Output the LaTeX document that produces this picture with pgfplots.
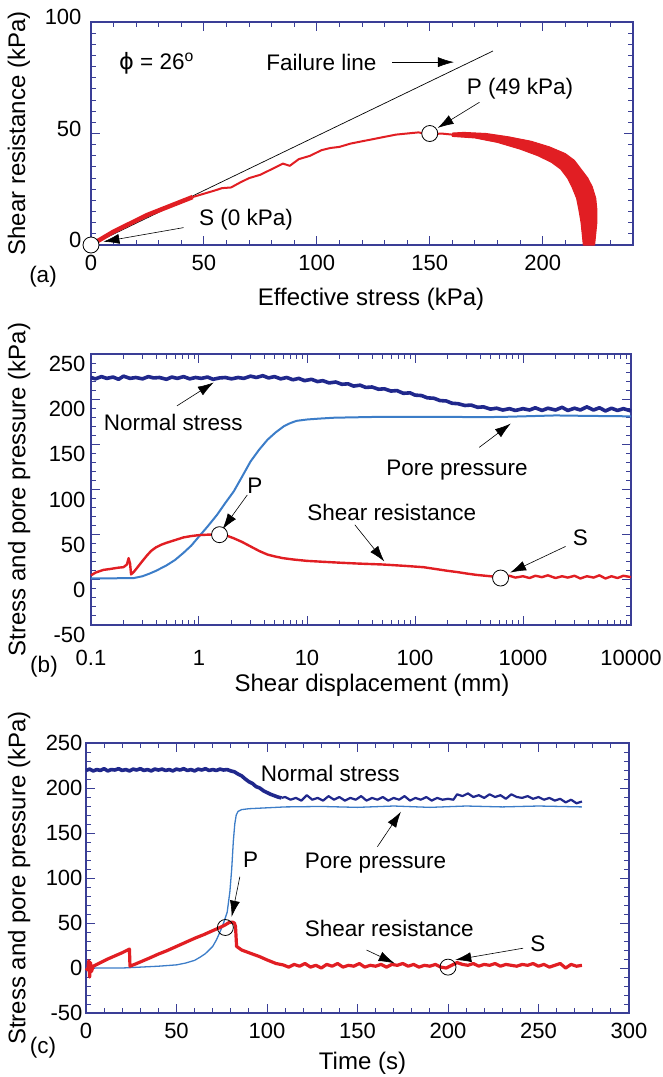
\documentclass[border=0pt]{standalone}
\usepackage{pgfplots}
\pgfplotsset{compat=1.18}
\usepackage{fontspec}
\setmainfont{Liberation Sans}
\newfontfamily\dejavu{DejaVu Sans}
\usetikzlibrary{arrows.meta}
\definecolor{framec}{RGB}{58,62,150}
\definecolor{normalc}{RGB}{32,40,140}
\definecolor{porec}{RGB}{60,125,200}
\definecolor{redc}{RGB}{225,30,35}
\newcommand{\fs}{\fontsize{22.5}{27}\selectfont}
\newcommand{\fl}{\fontsize{24}{28}\selectfont}
\tikzset{ann/.style={-{Latex[length=16pt,width=10pt]}, line width=0.6pt, black}}
\pgfplotsset{
  myaxis/.style={
    scale only axis,
    axis line style={framec, line width=1.3pt},
    every tick/.style={framec, line width=1pt},
    major tick length=9pt,
    minor tick length=5pt,
    tick align=inside,
    tick label style={font=\fontsize{22}{26}\selectfont, black},
    label style={font=\fl},
    /pgf/number format/assume math mode=true,
    clip=false,
    ylabel style={at={(axis description cs:-0.133,0.5)}, anchor=center},
    xlabel style={at={(axis description cs:0.5,0)}, anchor=center},
  },
  openc/.style={only marks, mark=*, mark size=8pt, mark options={fill=white, draw=black, line width=0.8pt}},
  openo/.style={only marks, mark=o, mark size=8pt, mark options={draw=black, line width=0.8pt}},
}
\begin{document}
\begin{tikzpicture}
\path[use as bounding box] (0,0) rectangle (662pt,-1077pt);

% ---------------- (a)
\begin{axis}[myaxis,
  at={(91pt,-245pt)}, anchor=south west,
  width=542pt, height=223pt,
  xmin=0, xmax=240, ymin=0, ymax=100,
  xtick={0,50,...,200}, minor xtick={10,20,...,240},
  ytick={0,50,100}, minor ytick={5,10,...,95},
  xticklabel style={yshift=-7pt},
  yticklabel style={xshift=-6pt, yshift=5pt},
  xlabel={Effective stress (kPa)},
  ylabel={Shear resistance (kPa)},
  xlabel style={yshift=-54pt, xshift=9pt},
]
\addplot[black, line width=0.7pt] coordinates {(0,0) (178,87)};
\addplot[redc, line width=4.5pt, line join=round] coordinates {
(0,0) (5,3) (10,6) (15,8.5) (20,11) (25,13.5) (30,15.5) (35,17.5) (40,19.5) (45,21.5)};
\addplot[redc, line width=2pt, line join=round] coordinates {
(45,21.5) (50,23) (55,24.5) (58,25.5) (62,25.8) (66,28) (70,30) (75,31.5) (80,34) (85,36.5) (88,35.5) (92,38.5) (97,40) (102,42.5) (106,43.5) (110,44) (115,45.5) (120,46.5) (125,47.5) (130,48.5) (135,49.5) (140,50) (145,50.5) (150,49.5) (155,50) (160,49.5)};
\addplot[redc, fill=redc, line width=1pt, line join=round] coordinates {
(160,48.7) (170,48) (180,46) (190,43) (198,40) (204,37) (208,34) (211,30) (213,26) (215,21) (216,16) (217,10) (217.5,5) (218,0)
(223,0) (223.5,5) (224,10) (224,16) (223.5,21) (222,26) (220,30) (217,34) (214,38) (210,41) (203,44) (195,46.5) (185,48.5) (175,50) (165,50.5) (160,50.2)} -- cycle;
\addplot[openc] coordinates {(150,50) (0,0)};
\node[font=\fs] at (axis cs:29,81.5) {{\dejavu ϕ} = 26\textsuperscript{o}};
\node[font=\fs] at (axis cs:102,82) {Failure line};
\draw[ann] (axis cs:133.4,82) -- (axis cs:160.7,82);
\node[font=\fs] at (axis cs:190,70.3) {P (49 kPa)};
\draw[ann] (axis cs:172,64) -- (axis cs:153.5,52.5);
\node[font=\fs] at (axis cs:68.6,11.2) {S (0 kPa)};
\draw[ann] (axis cs:41,7.8) -- (axis cs:5.5,1.5);
\node[font=\fs] at (axis description cs:0,0) [xshift=-48pt, yshift=-32pt] {(a)};
\end{axis}

% ---------------- (b)
\begin{axis}[myaxis,
  at={(91pt,-625pt)}, anchor=south west,
  width=540pt, height=271pt,
  xmode=log, xmin=0.1, xmax=10000, ymin=-50, ymax=250,
  xtick={0.1,1,10,100,1000,10000},
  xticklabels={0.1,1,10,100,1000,10000},
  minor xtick={0.2,0.3,0.4,0.5,0.6,0.7,0.8,0.9,2,3,4,5,6,7,8,9,20,30,40,50,60,70,80,90,200,300,400,500,600,700,800,900,2000,3000,4000,5000,6000,7000,8000,9000},
  ytick={-50,0,...,250}, minor ytick={-40,-30,...,240},
  xticklabel style={yshift=-22pt},
  yticklabel style={xshift=-2pt, yshift=-10pt},
  xlabel={Shear displacement (mm)},
  ylabel={Stress and pore pressure (kPa)},
  xlabel style={yshift=-60pt, xshift=11pt},
]
\addplot[normalc, line width=3.6pt, line join=round] coordinates {
(0.1,224) (0.11,222.5) (0.125,225) (0.14,223) (0.16,224.5) (0.18,222) (0.2,225.5) (0.23,223) (0.26,224) (0.3,222.5) (0.34,225) (0.38,223.5) (0.43,224) (0.5,222) (0.56,224.5) (0.63,223) (0.72,225) (0.82,222.5) (0.93,224) (1.05,223) (1.2,224.5) (1.35,222) (1.55,223.5) (1.75,224) (2,222.5) (2.3,224) (2.6,223) (3,225.5) (3.4,224) (3.9,226) (4.4,223.5) (5,225) (5.7,222.5) (6.5,224) (7.4,221.5) (8.4,223) (9.5,220.5) (11,222) (12.5,219.5) (14,220.5) (16,218) (18.5,219) (21,216.5) (24,217) (27,214.5) (31,215.5) (35,213) (40,213.5) (46,211) (52,211.5) (60,209) (68,209.5) (78,206.5) (90,207) (100,204.5) (115,204) (130,201.5) (150,201) (170,198.5) (195,198) (220,195.5) (250,195) (290,193) (330,193.5) (380,191) (430,191.5) (500,189) (570,190) (650,188) (750,189.5) (850,187.5) (1000,189.5) (1150,188) (1300,190.5) (1500,187.5) (1700,190) (2000,188) (2300,191) (2600,187.5) (3000,190) (3400,188) (3900,191.5) (4500,188) (5100,190.5) (5800,187) (6600,190) (7500,187.5) (8500,189.5) (10000,187)};
\addplot[porec, line width=2pt, line join=round] coordinates {
(0.1,1.5) (0.15,1.5) (0.2,2) (0.25,2) (0.3,4) (0.35,7) (0.4,10) (0.5,16) (0.6,22) (0.72,30) (0.85,38) (1.0,48) (1.2,59) (1.47,72) (1.75,85) (2.1,98) (2.5,114) (3.0,131) (3.6,144) (4.3,155) (5.1,163) (6.1,170) (7,173.5) (8,176) (10,177.5) (13,178.5) (18,179.5) (30,180) (50,180.5) (100,180.5) (200,180.5) (400,180) (700,180.5) (1000,181) (2000,182) (4000,181.5) (10000,181)};
\addplot[redc, line width=2.4pt, line join=round] coordinates {
(0.1,5) (0.11,8) (0.13,11) (0.15,12) (0.18,13.5) (0.2,14) (0.215,17) (0.223,24) (0.23,18) (0.235,6) (0.25,9) (0.27,14) (0.3,21) (0.33,27) (0.36,32) (0.4,36) (0.45,39) (0.5,41) (0.6,44) (0.72,47) (0.85,48.5) (1.0,49.5) (1.2,50) (1.5,50) (1.8,49) (2.1,46) (2.5,42) (3,37) (3.6,32) (4.3,28) (5,26) (6,24) (7.5,22.5) (10,21) (14,20) (20,19) (30,18) (50,17) (80,15.5) (120,14) (200,10) (250,8.5) (300,7) (370,5.5) (450,4.5) (550,3.5) (650,3) (750,4.5) (850,2.5) (1000,4) (1150,2) (1300,4.5) (1500,3) (1700,5) (2000,2) (2300,4) (2600,2.5) (3000,4.5) (3400,1.5) (3900,4) (4500,2.5) (5100,5) (5800,1.5) (6600,4) (7500,2) (8500,4.5) (10000,3)};
\addplot[openc] coordinates {(1.55,50) (620,2)};
\node[font=\fs] at (axis cs:0.578,174) {Normal stress};
\draw[ann] (axis cs:0.625,192.6) -- (axis cs:1.37,218.5);
\node[font=\fs] at (axis cs:245,122) {Pore pressure};
\draw[ann] (axis cs:394,146.7) -- (axis cs:771,173);
\node[font=\fs] at (axis cs:3.3,104) {P};
\draw[ann] (axis cs:2.8,94) -- (axis cs:1.65,56);
\node[font=\fs] at (axis cs:61,74.4) {Shear resistance};
\draw[ann] (axis cs:27.7,61) -- (axis cs:52,20.3);
\node[font=\fs] at (axis cs:3400,46.7) {S};
\draw[ann] (axis cs:2480,37) -- (axis cs:760,8);
\node[font=\fs] at (axis description cs:0,0) [xshift=-47pt, yshift=-42pt] {(b)};
\end{axis}

% ---------------- (c)
\begin{axis}[myaxis,
  at={(86pt,-1013pt)}, anchor=south west,
  width=543pt, height=270pt,
  xmin=0, xmax=300, ymin=-50, ymax=250,
  xtick={0,50,...,300}, minor xtick={10,20,...,290},
  ytick={-50,0,...,250}, minor ytick={-40,-30,...,240},
  xticklabel style={yshift=-7pt},
  xlabel={Time (s)},
  ylabel={Stress and pore pressure (kPa)},
  ylabel style={at={(axis description cs:-0.123,0.5)}},
  xlabel style={yshift=-50pt, xshift=5pt},
]
\addplot[normalc, line width=3.6pt, line join=round] coordinates {
(0,219.5) (2,221) (4,219) (6,220.5) (8,219.5) (10,221.5) (12,219) (14,220.5) (16,220) (18,221.5) (20,219.5) (22,220.5) (24,219) (26,221) (28,220) (30,221.5) (32,219.5) (34,220.5) (36,219) (38,221) (40,220) (42,221) (44,219.5) (46,220.5) (48,219) (50,221) (52,220) (54,221.5) (56,219.5) (58,220.5) (60,219) (62,221) (64,220) (66,221.5) (68,219.5) (70,220.5) (72,219.5) (74,221) (76,220) (78,220.5) (80,219) (82,218) (84,215.5) (86,213.5) (88,210) (90,207) (92,205) (94,201.5) (96,200) (98,197) (100,195) (102,193) (104,191.5) (106,190) (108,189)};
\addplot[normalc, line width=2.2pt, line join=round] coordinates {
(108,189) (110,190) (113,187) (116,189) (119,186) (122,192) (125,187) (128,189) (131,186) (134,191) (137,187) (140,190) (143,186) (146,189) (149,187) (152,191) (155,186) (158,189) (161,187) (164,190) (167,186) (170,189) (173,187) (176,191) (179,186) (182,189) (185,187) (188,190) (191,186) (194,189) (197,187) (200,188) (203,187) (205,193) (208,191) (211,194) (214,190) (217,192) (220,189) (223,193) (226,190) (229,192) (232,188) (235,193) (238,190) (241,189) (244,191) (247,188) (250,190) (253,187) (256,189) (259,186) (262,188) (265,184) (268,187) (271,183) (274,185)};
\addplot[porec, line width=1.3pt, line join=round] coordinates {
(0,0) (10,0) (20,0) (25,0.5) (30,1) (40,2) (50,3.5) (55,5.5) (60,8.5) (63,12) (66,16) (70,24) (72,31) (74,40) (76,50) (78,62) (79.5,85) (80.5,110) (81.4,141) (82.2,160) (83,170) (84,174) (86,176) (90,177) (100,178) (110,179) (130,179.5) (150,178.5) (170,180) (190,178.5) (210,180) (230,179) (250,180) (274,179)};
\addplot[redc, line width=3.2pt, line join=round] coordinates {
(0,0) (1,-2) (1.5,8) (2,-10) (2.5,6) (3,-4) (4,2) (5,3) (8,6) (12,10) (16,13.5) (20,17) (24,21) (24.3,2) (28,5) (35,11) (40,15.5) (45,19.5) (50,24) (55,28.5) (60,33) (65,37) (70,41.5) (74,45) (77,48) (79,50.5) (81,51) (82,50) (82.6,46) (83.2,24) (86,20) (90,17) (96,12.6) (100,9) (105,5) (109,3.4) (112,1) (115,4) (118,2) (121,5) (124,1) (127,3) (130,0) (133,4) (136,2) (139,5) (142,1) (145,3) (148,2) (151,5) (154,1) (157,3) (160,2) (163,4) (166,1) (169,4) (172,3) (175,5) (178,2) (181,4) (184,1) (187,3) (190,2) (193,4) (196,1) (199,0) (202,3) (205,6) (208,4) (211,3) (214,5) (217,2) (220,4) (223,3) (226,5) (229,2) (232,4) (235,3) (238,2) (241,4) (244,3) (247,5) (250,2) (253,4) (256,1) (259,3) (262,5) (265,0) (268,4) (271,2) (274,3)};
\addplot[openo] coordinates {(77,45) (200,1)};
\node[font=\fs] at (axis cs:135,216.3) {Normal stress};
\node[font=\fs] at (axis cs:160,116.3) {Pore pressure};
\draw[ann] (axis cs:161,134.8) -- (axis cs:174,173.7);
\node[font=\fs] at (axis cs:91,120) {P};
\draw[ann] (axis cs:85,101.4) -- (axis cs:80.5,57);
\node[font=\fs] at (axis cs:167.6,44) {Shear resistance};
\draw[ann] (axis cs:155,20) -- (axis cs:170.5,5.2);
\node[font=\fs] at (axis cs:249.7,27.4) {S};
\draw[ann] (axis cs:241.5,22) -- (axis cs:204,9);
\node[font=\fs] at (axis description cs:0,0) [xshift=-43pt, yshift=-35pt] {(c)};
\end{axis}
\end{tikzpicture}
\end{document}
